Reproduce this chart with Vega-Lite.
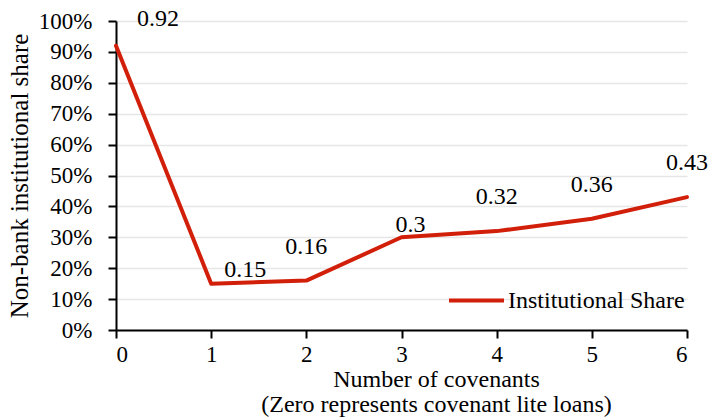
{
  "$schema": "https://vega.github.io/schema/vega-lite/v6.json",
  "width": 571,
  "height": 309,
  "autosize": {"type": "none"},
  "padding": {"left": 116, "top": 21, "right": 22, "bottom": 89},
  "background": "white",
  "config": {
    "font": "Liberation Serif",
    "view": {"stroke": null},
    "axis": {"labelFont": "Liberation Serif", "titleFont": "Liberation Serif"},
    "legend": {"labelFont": "Liberation Serif"},
    "text": {"font": "Liberation Serif"}
  },
  "data": {
    "values": [
      {"covenants": 0, "share": 0.92, "series": "Institutional Share"},
      {"covenants": 1, "share": 0.15, "series": "Institutional Share"},
      {"covenants": 2, "share": 0.16, "series": "Institutional Share"},
      {"covenants": 3, "share": 0.30, "series": "Institutional Share"},
      {"covenants": 4, "share": 0.32, "series": "Institutional Share"},
      {"covenants": 5, "share": 0.36, "series": "Institutional Share"},
      {"covenants": 6, "share": 0.43, "series": "Institutional Share"}
    ]
  },
  "encoding": {
    "x": {
      "field": "covenants", "type": "quantitative",
      "scale": {"domain": [0, 6], "nice": false, "zero": false},
      "axis": {
        "values": [0, 1, 2, 3, 4, 5, 6],
        "format": "d",
        "grid": false,
        "domainColor": "black", "domainWidth": 2,
        "tickColor": "black", "tickWidth": 2, "tickSize": 8,
        "labelFont": "Liberation Serif",
        "labelFontSize": 23, "labelColor": "black", "labelPadding": 5,
        "title": ["Number of covenants", "(Zero represents covenant lite loans)"],
        "titleFont": "Liberation Serif",
        "titleFontSize": 24, "titleFontWeight": "normal", "titleColor": "black",
        "titleLineHeight": 25, "titleX": 320, "titlePadding": 1
      }
    },
    "y": {
      "field": "share", "type": "quantitative",
      "scale": {"domain": [0, 1], "nice": false},
      "axis": {
        "values": [0, 0.1, 0.2, 0.3, 0.4, 0.5, 0.6, 0.7, 0.8, 0.9, 1],
        "format": ".0%",
        "grid": true, "gridColor": "#e6e6e6", "gridWidth": 1.5,
        "domainColor": "black", "domainWidth": 2,
        "tickColor": "black", "tickWidth": 2, "tickSize": 8,
        "labelFont": "Liberation Serif",
        "labelFontSize": 23, "labelColor": "black", "labelPadding": 16,
        "title": "Non-bank institutional share",
        "titleFont": "Liberation Serif",
        "titleFontSize": 25, "titleFontWeight": "normal", "titleColor": "black",
        "titlePadding": 6
      }
    }
  },
  "layer": [
    {
      "mark": {"type": "line", "strokeWidth": 4, "strokeJoin": "round", "strokeCap": "round"},
      "encoding": {
        "color": {
          "field": "series", "type": "nominal",
          "scale": {"range": ["#D21F0A"]},
          "legend": {
            "title": null,
            "orient": "none",
            "legendX": 331,
            "legendY": 250,
            "symbolType": "stroke",
            "symbolSize": 3025,
            "symbolStrokeWidth": 4,
            "labelFont": "Liberation Serif",
            "labelFontSize": 24,
            "labelLimit": 400,
            "labelColor": "black",
            "labelOffset": 2
          }
        }
      }
    },
    {
      "transform": [{"filter": "datum.covenants == 0"}],
      "mark": {"type": "text", "font": "Liberation Serif", "fontSize": 24, "dx": 42, "dy": -27, "color": "black"},
      "encoding": {"text": {"field": "share", "type": "quantitative", "format": ".2~f"}}
    },
    {
      "transform": [{"filter": "datum.covenants == 1"}],
      "mark": {"type": "text", "font": "Liberation Serif", "fontSize": 24, "dx": 34, "dy": -14, "color": "black"},
      "encoding": {"text": {"field": "share", "type": "quantitative", "format": ".2~f"}}
    },
    {
      "transform": [{"filter": "datum.covenants == 3"}],
      "mark": {"type": "text", "font": "Liberation Serif", "fontSize": 24, "dx": 9, "dy": -12, "color": "black"},
      "encoding": {"text": {"field": "share", "type": "quantitative", "format": ".2~f"}}
    },
    {
      "transform": [{"filter": "datum.covenants == 2 || datum.covenants == 4 || datum.covenants == 5 || datum.covenants == 6"}],
      "mark": {"type": "text", "font": "Liberation Serif", "fontSize": 24, "dx": 0, "dy": -34, "color": "black"},
      "encoding": {"text": {"field": "share", "type": "quantitative", "format": ".2~f"}}
    }
  ]
}
